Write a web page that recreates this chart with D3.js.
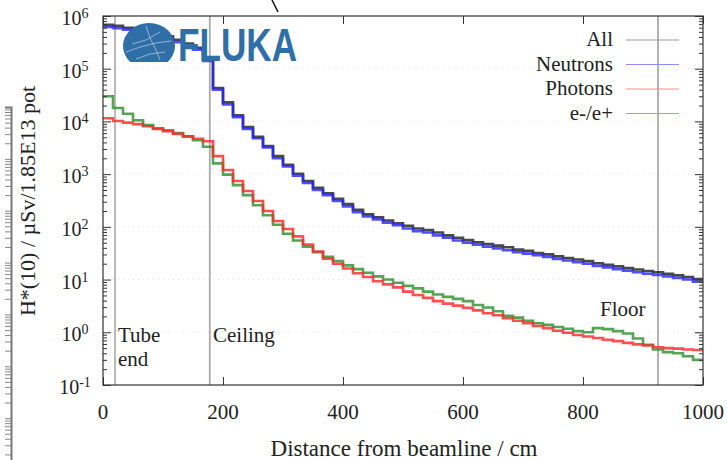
<!DOCTYPE html>
<html>
<head>
  <meta charset="utf-8">
  <title>H*(10) vs distance</title>
</head>
<body style="margin:0">
<script src="https://d3js.org/d3.v7.min.js"></script>
<script>
  var width = 727;
  var height = 460;
  var serif = 'Liberation Serif';

  // 60 bins of equal width between 0 and 1000 cm
  var binCount = 60;
  var xMax = 1000;

  var allDose = [6.8e5, 6.5e5, 6.0e5, 5.6e5, 5.1e5, 4.6e5, 4.1e5, 3.55e5, 3.0e5, 2.5e5,
    1.55e5, 4.3e4, 2.3e4, 1.3e4, 7.8e3, 5.1e3, 3.4e3, 2.2e3, 1.5e3, 1.02e3,
    740, 550, 435, 340, 270, 210, 174, 151, 132, 117,
    105, 93, 87, 78, 69, 62, 56, 51, 47, 44,
    41, 37, 35, 32, 30, 27.5, 25.7, 24, 22.4, 20.4,
    19, 17.8, 16.6, 15.5, 14.5, 13.8, 12.9, 12.0, 11.2, 10.2];
  var neutronDose = [6.2e5, 5.9e5, 5.5e5, 5.1e5, 4.7e5, 4.2e5, 3.7e5, 3.2e5, 2.75e5, 2.3e5,
    1.4e5, 4.0e4, 2.1e4, 1.2e4, 7.2e3, 4.8e3, 3.2e3, 2.0e3, 1.4e3, 930,
    680, 500, 400, 310, 245, 190, 158, 138, 120, 107,
    93, 83, 78, 69, 62, 55, 50, 46, 42, 39,
    36, 33, 31, 29, 27, 24.5, 23, 21.4, 20, 18.2,
    17, 15.8, 14.8, 13.8, 12.9, 12.3, 11.5, 10.7, 10.0, 9.1];
  var photonDose = [1.15e4, 1.02e4, 9.5e3, 8.9e3, 8.1e3, 7.2e3, 6.5e3, 5.8e3, 5.2e3, 4.7e3,
    4.2e3, 2.2e3, 1.2e3, 740, 480, 310, 200, 129, 91, 66,
    46, 34, 25, 20, 16.2, 13.2, 11.2, 9.3, 8.1, 7.1,
    5.9, 5.1, 4.5, 3.9, 3.5, 3.2, 2.9, 2.6, 2.3, 2.1,
    1.86, 1.66, 1.48, 1.32, 1.2, 1.07, 0.98, 0.89, 0.83, 0.78,
    0.72, 0.68, 0.63, 0.59, 0.56, 0.52, 0.50, 0.49, 0.47, 0.46];
  var electronDose = [3.0e4, 1.8e4, 1.4e4, 1.05e4, 8.5e3, 7.4e3, 6.8e3, 6.0e3, 5.2e3, 4.4e3,
    3.3e3, 1.6e3, 980, 620, 400, 257, 166, 110, 74, 55,
    42, 33, 27, 22.4, 18.6, 15.8, 13.5, 11.5, 10, 8.7,
    7.6, 6.8, 5.9, 5.2, 4.7, 4.3, 3.9, 3.3, 2.95, 2.5,
    2.05, 1.9, 1.66, 1.48, 1.38, 1.26, 1.17, 1.05, 1.0, 1.2,
    1.15, 1.05, 0.95, 0.76, 0.58, 0.47, 0.42, 0.40, 0.35, 0.30];

  var seriesNames = ['All', 'Neutrons', 'Photons', 'e-/e+'];
  var xTicks = [0, 200, 400, 600, 800, 1000];
  var yExponents = [-1, 0, 1, 2, 3, 4, 5, 6];

  // vertical marker lines: tube end, ceiling, floor
  var markerPos = [20, 178, 925];

  var margin = {left: 103, right: 24, top: 16, bottom: 75};

  var svg = d3.select('body')
    .append('svg')
      .attr('width', width)
      .attr('height', height);

  var x = d3.scaleLinear()
    .domain([0, xMax])
    .range([margin.left, width - margin.right]);

  var y = d3.scaleLog()
    .domain([1e-1, 1e6])
    .range([height - margin.bottom, margin.top]);

  var binW = xMax / binCount;

  // faint grid
  svg.append('g')
    .selectAll('line')
    .data(yExponents.slice(1, -1))
    .enter().append('line')
      .attr('x1', x(0)).attr('x2', x(xMax))
      .attr('y1', function(d) { return y(Math.pow(10, d)); })
      .attr('y2', function(d) { return y(Math.pow(10, d)); })
      .attr('stroke', '#e4e4e4')
      .attr('stroke-dasharray', '1,4');

  // marker lines
  svg.append('g')
    .selectAll('line')
    .data(markerPos)
    .enter().append('line')
      .attr('x1', function(d) { return x(d); })
      .attr('x2', function(d) { return x(d); })
      .attr('y1', y(1e-1)).attr('y2', y(1e6))
      .attr('stroke', function(d, i) { return i === 0 ? '#777' : '#aaa'; })
      .attr('stroke-width', function(d, i) { return i === 0 ? 1 : 1.8; });

  var stepLine = d3.line()
    .x(function(d) { return x(d[0]); })
    .y(function(d) { return y(d[1]); })
    .curve(d3.curveStepAfter);

  function toSteps(values) {
    var pts = values.map(function(v, i) { return [i * binW, v]; });
    pts.push([xMax, values[values.length - 1]]);
    return pts;
  }

  var curves = [
    {data: allDose, color: '#1c1c1c'},
    {data: neutronDose, color: '#2424ff'},
    {data: electronDose, color: '#2a8c2a'},
    {data: photonDose, color: '#ff2424'}
  ];

  svg.append('g')
    .selectAll('path')
    .data(curves)
    .enter().append('path')
      .attr('d', function(d) { return stepLine(toSteps(d.data)); })
      .attr('fill', 'none')
      .attr('stroke', function(d) { return d.color; })
      .attr('stroke-width', 2.6)
      .attr('stroke-opacity', 0.8);

  // frame
  svg.append('rect')
    .attr('x', x(0)).attr('y', y(1e6))
    .attr('width', x(xMax) - x(0))
    .attr('height', y(1e-1) - y(1e6))
    .attr('fill', 'none')
    .attr('stroke', '#333')
    .attr('stroke-width', 1.2);

  // log ticks on left and right
  var minorVals = [];
  yExponents.slice(0, -1).forEach(function(e) {
    for (var m = 2; m < 10; m++) minorVals.push(m * Math.pow(10, e));
  });
  var majorVals = yExponents.map(function(e) { return Math.pow(10, e); });

  var yAxes = [
    [d3.axisRight(y).tickValues(minorVals).tickSize(4), x(0)],
    [d3.axisRight(y).tickValues(majorVals).tickSize(8), x(0)],
    [d3.axisLeft(y).tickValues(minorVals).tickSize(4), x(xMax)],
    [d3.axisLeft(y).tickValues(majorVals).tickSize(8), x(xMax)]
  ];
  yAxes.forEach(function(a) {
    var g = svg.append('g')
      .attr('transform', 'translate(' + a[1] + ',0)')
      .call(a[0].tickFormat(''));
    g.select('.domain').remove();
    g.selectAll('line').attr('stroke', '#333');
  });

  var xAxes = [
    [d3.axisTop(x).tickValues(xTicks).tickSize(8), y(1e-1)],
    [d3.axisBottom(x).tickValues(xTicks).tickSize(8), y(1e6)]
  ];
  xAxes.forEach(function(a) {
    var g = svg.append('g')
      .attr('transform', 'translate(0,' + a[1] + ')')
      .call(a[0].tickFormat(''));
    g.select('.domain').remove();
    g.selectAll('line').attr('stroke', '#333');
  });

  function addText(sel) {
    return sel.style('font-family', serif).attr('fill', '#222');
  }

  // y tick labels 10^n
  var yLab = addText(svg.append('g')
    .selectAll('text')
    .data(yExponents)
    .enter().append('text')
      .attr('x', 75)
      .attr('y', function(d) { return y(Math.pow(10, d)) + 9; })
      .attr('text-anchor', 'middle')
      .attr('font-size', 20));
  yLab.append('tspan').text('10');
  yLab.append('tspan')
    .attr('dy', -7)
    .attr('font-size', 14)
    .text(function(d) { return d; });

  // x tick labels
  addText(svg.append('g')
    .selectAll('text')
    .data(xTicks)
    .enter().append('text')
      .attr('x', function(d) { return x(d); })
      .attr('y', 419)
      .attr('text-anchor', 'middle')
      .attr('font-size', 21)
      .text(function(d) { return d; }));

  // axis titles
  addText(svg.append('text')
    .attr('x', 404)
    .attr('y', 456)
    .attr('text-anchor', 'middle')
    .attr('font-size', 23)
    .text('Distance from beamline / cm'));

  addText(svg.append('text')
    .attr('transform', 'translate(35,201) rotate(-90)')
    .attr('text-anchor', 'middle')
    .attr('font-size', 22)
    .text('H*(10) / \u00b5Sv/1.85E13 pot'));

  // annotations
  var notes = [
    {t: 'Tube', x: 118, y: 342},
    {t: 'end', x: 118, y: 366},
    {t: 'Ceiling', x: 213, y: 342},
    {t: 'Floor', x: 600, y: 316}
  ];
  addText(svg.append('g')
    .selectAll('text')
    .data(notes)
    .enter().append('text')
      .attr('x', function(d) { return d.x; })
      .attr('y', function(d) { return d.y; })
      .attr('font-size', 21)
      .text(function(d) { return d.t; }));

  // legend
  var legendColors = ['#999', '#8c8cff', '#ff8c8c', '#7cc07c'];
  var leg = svg.append('g')
    .selectAll('g')
    .data(seriesNames)
    .enter().append('g')
      .attr('transform', function(d, i) { return 'translate(0,' + (40 + i * 24.5) + ')'; });
  addText(leg.append('text')
    .attr('x', 613)
    .attr('y', 6)
    .attr('text-anchor', 'end')
    .attr('font-size', 21)
    .text(function(d) { return d; }));
  leg.append('line')
    .attr('x1', 626).attr('x2', 679)
    .attr('y1', 0).attr('y2', 0)
    .attr('stroke', function(d, i) { return legendColors[i]; })
    .attr('stroke-width', 1.2);

  // FLUKA logo
  var logo = svg.append('g');
  logo.append('clipPath').attr('id', 'dome')
    .append('rect').attr('x', 110).attr('y', 10).attr('width', 80).attr('height', 52);
  logo.append('ellipse')
    .attr('cx', 149).attr('cy', 46).attr('rx', 26).attr('ry', 23)
    .attr('fill', '#2f6ea6')
    .attr('clip-path', 'url(#dome)');
  var tracks = [
    [[126, 52], [140, 47], [156, 43], [171, 41]],
    [[136, 59], [150, 54], [165, 52]],
    [[146, 26], [150, 38], [156, 50], [160, 60]],
    [[132, 44], [146, 40], [160, 32]]
  ];
  logo.selectAll('path.track')
    .data(tracks)
    .enter().append('path')
      .attr('class', 'track')
      .attr('d', d3.line())
      .attr('fill', 'none')
      .attr('stroke', '#d6e3f0')
      .attr('stroke-width', 0.6)
      .attr('clip-path', 'url(#dome)');
  logo.append('text')
    .attr('x', 178)
    .attr('y', 61)
    .style('font-family', 'Liberation Sans')
    .attr('font-weight', 'bold')
    .attr('font-size', 46)
    .attr('textLength', 119)
    .attr('lengthAdjust', 'spacingAndGlyphs')
    .attr('fill', '#2f6ea6')
    .text('FLUKA');

  // stray pieces at the picture edges
  svg.append('line')
    .attr('x1', 272).attr('y1', 0).attr('x2', 278).attr('y2', 12)
    .attr('stroke', '#111').attr('stroke-width', 1.5);

  var ruler = d3.scaleLog().domain([1e6, 1e-1]).range([107, 470]);
  var rulerTicks = [];
  d3.range(-1, 6).forEach(function(e) {
    for (var m = 1; m < 10; m++) rulerTicks.push(m * Math.pow(10, e));
  });
  var rg = svg.append('g')
    .attr('transform', 'translate(11,0)')
    .call(d3.axisLeft(ruler).tickValues(rulerTicks).tickSize(6).tickFormat(''));
  rg.select('.domain').attr('stroke', '#777').attr('stroke-width', 2);
  rg.selectAll('line').attr('stroke', '#888');
</script>
</body>
</html>
